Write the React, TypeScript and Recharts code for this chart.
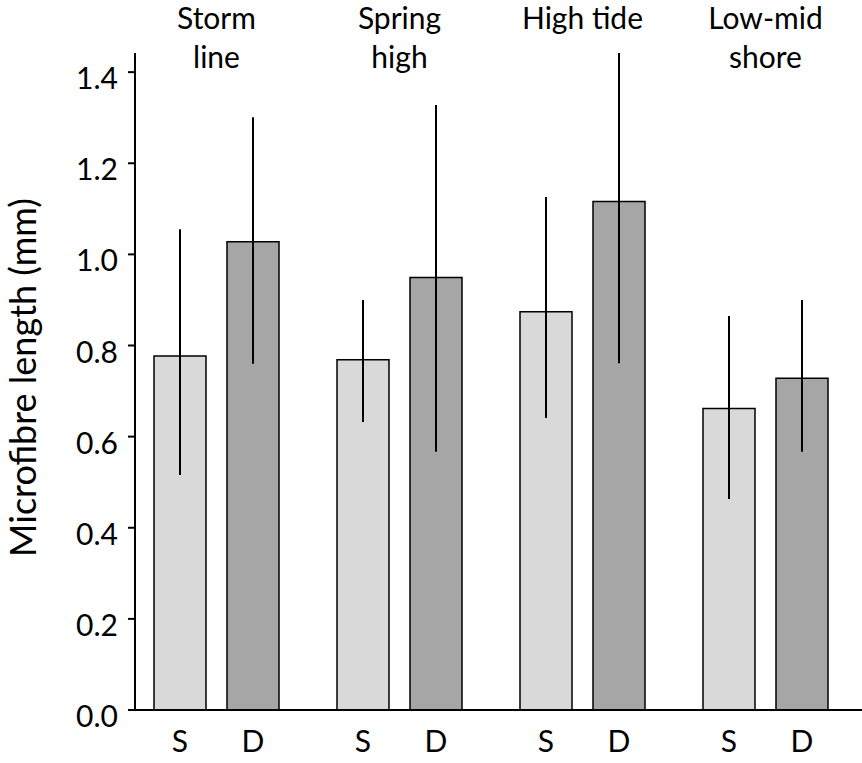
import { BarChart, Bar, XAxis, YAxis, ErrorBar, LabelList } from 'recharts'

// shore zones, top labels split on two lines
const sites = ['Storm line', 'Spring high', 'High tide', 'Low-mid shore']
const siteLines = [['Storm', 'line'], ['Spring', 'high'], ['High tide'], ['Low-mid', 'shore']]

// S = surface, D = deep; mean with lower / upper end of the error bar
const sMean = [0.777, 0.769, 0.874, 0.662]
const sLow = [0.516, 0.632, 0.641, 0.463]
const sHigh = [1.055, 0.9, 1.126, 0.865]
const dMean = [1.028, 0.949, 1.116, 0.728]
const dLow = [0.76, 0.567, 0.761, 0.567]
const dHigh = [1.301, 1.328, 1.442, 0.9]

const yTicks = [0, 0.2, 0.4, 0.6, 0.8, 1.0, 1.2, 1.4]

const data = sites.map((site, i) => ({
  site,
  s: sMean[i],
  sErr: [sMean[i] - sLow[i], sHigh[i] - sMean[i]],
  d: dMean[i],
  dErr: [dMean[i] - dLow[i], dHigh[i] - dMean[i]],
}))

const FONT = 'Lato, "Open Sans", sans-serif'

function SiteTick({ x, y, payload }: any) {
  const lines = siteLines[sites.indexOf(payload.value)] || [payload.value]
  return (
    <g>
      {lines.map((l, i) => (
        <text key={i} x={x} y={y - 24 + i * 39} textAnchor="middle" fontSize={30} fill="#000" fontFamily={FONT}>
          {l}
        </text>
      ))}
    </g>
  )
}

function ValueTick({ x, y, payload }: any) {
  return (
    <text x={x} y={y + 17} textAnchor="end" fontSize={30} fill="#000" fontFamily={FONT}>
      {Number(payload.value).toFixed(1)}
    </text>
  )
}

function YLabel({ viewBox }: any) {
  const cx = 36
  const cy = viewBox.y + viewBox.height / 2 - 4
  return (
    <text x={cx} y={cy} transform={`rotate(-90, ${cx}, ${cy})`} textAnchor="middle" fontSize={36} fill="#000" fontFamily={FONT}>
      Microfibre length (mm)
    </text>
  )
}

const letter = (txt: string) => (props: any) => {
  const { x, y, width, height } = props
  return (
    <text x={x + width / 2} y={y + height + 42} textAnchor="middle" fontSize={30} fill="#000" fontFamily={FONT}>
      {txt}
    </text>
  )
}

export default function App() {
  return (
    <div style={{ position: 'absolute', left: 0, top: 0, width: 862, height: 763, background: '#fff' }}>
      <BarChart
        width={862}
        height={763}
        data={data}
        margin={{ top: 0, right: 0, left: 0, bottom: 0 }}
        barSize={52}
        barGap={21}
        style={{ fontFamily: FONT }}
      >
        <XAxis
          xAxisId="top"
          dataKey="site"
          orientation="top"
          height={53}
          padding={{ left: -10, right: 5 }}
          axisLine={false}
          tickLine={false}
          tickSize={0}
          tickMargin={0}
          interval={0}
          tick={<SiteTick />}
        />
        <XAxis
          dataKey="site"
          height={53}
          padding={{ left: -10, right: 5 }}
          tick={false}
          tickLine={false}
          axisLine={{ stroke: '#000', strokeWidth: 2 }}
        />
        <YAxis
          width={135}
          domain={[0, 1.43]}
          ticks={yTicks}
          interval={0}
          tickSize={7}
          tickMargin={10}
          axisLine={{ stroke: '#000', strokeWidth: 2 }}
          tickLine={{ stroke: '#000', strokeWidth: 2 }}
          tick={<ValueTick />}
          label={<YLabel />}
        />
        <Bar dataKey="s" fill="#d9d9d9" stroke="#000" strokeWidth={1.5} isAnimationActive={false}>
          <ErrorBar dataKey="sErr" width={0} stroke="#000" strokeWidth={2} direction="y" isAnimationActive={false} />
          <LabelList dataKey="s" content={letter('S')} />
        </Bar>
        <Bar dataKey="d" fill="#a6a6a6" stroke="#000" strokeWidth={1.5} isAnimationActive={false}>
          <ErrorBar dataKey="dErr" width={0} stroke="#000" strokeWidth={2} direction="y" isAnimationActive={false} />
          <LabelList dataKey="d" content={letter('D')} />
        </Bar>
      </BarChart>
    </div>
  )
}
